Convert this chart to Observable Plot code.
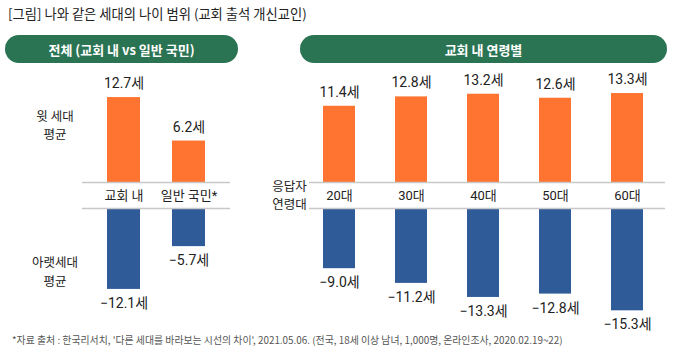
<!DOCTYPE html>
<html><head><meta charset="utf-8">
<script src="https://cdn.jsdelivr.net/npm/d3@7"></script>
<script src="https://cdn.jsdelivr.net/npm/@observablehq/plot@0.6"></script>
<style>
body{margin:0;background:#fff;font-family:Roboto,"Noto Sans CJK KR",sans-serif;color:#222;}
#wrap{position:relative;width:680px;height:363px;overflow:hidden;}
.abs{position:absolute;}
.title{font-size:13.3px;font-family:"Noto Sans CJK KR",sans-serif;color:#222;white-space:nowrap;}
.pill{background:#2a7453;color:#fff;font-weight:bold;font-size:13px;border-radius:14px;display:flex;align-items:center;justify-content:center;height:28px;font-family:"Noto Sans CJK KR",sans-serif;}
.rowlab{font-size:12.5px;text-align:center;font-family:"Noto Sans CJK KR",sans-serif;white-space:nowrap;line-height:17px;}
.foot{font-size:9.9px;color:#555;white-space:nowrap;font-family:"Noto Sans CJK KR",sans-serif;}
</style></head><body><div id="wrap"></div>
<script>
const titleText = "[그림] 나와 같은 세대의 나이 범위 (교회 출석 개신교인)";
const leftHeader = "전체 (교회 내 vs 일반 국민)";
const rightHeader = "교회 내 연령별";
const upLabel = ["윗 세대", "평균"];
const downLabel = ["아랫세대", "평균"];
const ageLabel = ["응답자", "연령대"];
const footText = "*자료 출처 : 한국리서치, '다른 세대를 바라보는 시선의 차이', 2021.05.06. (전국, 18세 이상 남녀, 1,000명, 온라인조사, 2020.02.19~22)";

const totalCats = ["교회 내", "일반 국민*"];
const totalUp = [12.7, 6.2];
const totalDown = [-12.1, -5.7];
const ageCats = ["20대", "30대", "40대", "50대", "60대"];
const ageUp = [11.4, 12.8, 13.2, 12.6, 13.3];
const ageDown = [-9.0, -11.2, -13.3, -12.8, -15.3];

const ORANGE = "#ff7430", BLUE = "#2f5b98", RULE = "#c8c8c8", INK = "#222";
const K = 6.6875; // px per year
const fmt = v => (v < 0 ? "\u2212" : "") + Math.abs(v).toFixed(1) + "세";
const wrap = document.getElementById("wrap");

function place(el, left, top) {
  el.style.position = "absolute"; el.style.left = left + "px"; el.style.top = top + "px";
  wrap.appendChild(el); return el;
}
function div(cls, html, left, top, width) {
  const d = document.createElement("div");
  d.className = "abs " + cls; d.innerHTML = html;
  d.style.left = left + "px"; d.style.top = top + "px";
  if (width) d.style.width = width + "px";
  wrap.appendChild(d); return d;
}

function topPlot(cats, vals, o) {
  const data = cats.map((c, i) => ({c, v: vals[i]}));
  return Plot.plot({
    width: o.width, height: 138,
    marginLeft: o.ml, marginRight: o.mr, marginTop: 5, marginBottom: 26,
    style: {fontFamily: 'Roboto,"Noto Sans CJK KR",sans-serif', color: INK, background: "transparent", overflow: "visible"},
    x: {domain: cats, range: o.range, paddingInner: o.pi, paddingOuter: o.po, axis: null},
    y: {domain: [0, 16], axis: null},
    marks: [
      Plot.barY(data, {x: "c", y: "v", fill: ORANGE}),
      Plot.ruleY([0], {stroke: RULE, strokeWidth: 1.5}),
      Plot.text(data, {x: "c", y: "v", text: d => fmt(d.v), dy: -14, fontSize: 14, fill: INK}),
      Plot.axisX({anchor: "bottom", tickSize: 0, tickPadding: 8, fontSize: 13, label: null, fill: INK})
    ]
  });
}
function bottomPlot(cats, vals, o) {
  const data = cats.map((c, i) => ({c, v: vals[i]}));
  return Plot.plot({
    width: o.width, height: 130,
    marginLeft: o.ml, marginRight: o.mr, marginTop: 2, marginBottom: 0,
    style: {fontFamily: 'Roboto,"Noto Sans CJK KR",sans-serif', color: INK, background: "transparent", overflow: "visible"},
    x: {domain: cats, range: o.range, paddingInner: o.pi, paddingOuter: o.po, axis: null},
    y: {domain: [-18, 0], range: [2 + 18 * K, 2], axis: null},
    marks: [
      Plot.barY(data, {x: "c", y: "v", fill: BLUE}),
      Plot.ruleY([0], {stroke: RULE, strokeWidth: 1.5}),
      Plot.text(data, {x: "c", y: "v", text: d => fmt(d.v), dy: 14, fontSize: 14, fill: INK})
    ]
  });
}

div("title", titleText, 8, 4);
div("pill", leftHeader, 5, 35, 233);
div("pill", rightHeader, 300, 35, 367);

const leftOpt = {width: 245, ml: 82, mr: 15, range: [82, 230], pi: 0.485, po: 0.364};
const rightOpt = {width: 435, ml: 64, mr: 15, range: [61.4, 415.4], pi: 0.55, po: 0.2};
place(topPlot(totalCats, totalUp, leftOpt), 0, 70);
place(bottomPlot(totalCats, totalDown, leftOpt), 0, 206);
place(topPlot(ageCats, ageUp, rightOpt), 245, 70);
place(bottomPlot(ageCats, ageDown, rightOpt), 245, 206);

function rowLabel(lines, cx, cy, gap, size) {
  lines.forEach((t, i) => {
    const d = div("rowlab", t, cx - 40, cy + (i - (lines.length - 1) / 2) * gap - 8.5, 80);
    if (size) d.style.fontSize = size + "px";
  });
}
rowLabel(upLabel, 55, 124.5, 18.5);
rowLabel(downLabel, 55, 271, 18.5);
rowLabel(ageLabel, 289.5, 194.5, 18.5);
div("foot", footText, 12, 333);
</script></body></html>
